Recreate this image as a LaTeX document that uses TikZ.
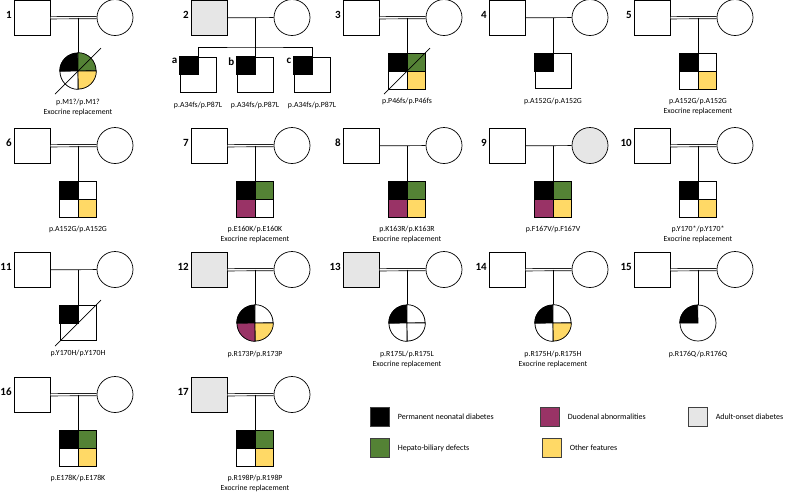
\documentclass[tikz,border=0pt]{standalone}
\usepackage{fontspec}
\setmainfont{Carlito}
\usepackage{tikz}
\usetikzlibrary{calc, positioning}

\definecolor{pndcol}{HTML}{000000}
\definecolor{hepcol}{HTML}{548235}
\definecolor{duocol}{HTML}{993366}
\definecolor{othcol}{HTML}{FFD966}
\definecolor{adultcol}{HTML}{E6E6E6}
\definecolor{boxline}{HTML}{404040}

% parents: id, left x, top y, number, father fill, mother fill, marriage line
\newcommand{\parents}[7]{%
	\node[male, fill=#5, anchor=north west] (f#1) at (#2,#3) {};
	\node[female, fill=#6] (m#1) at (#2+101,#3+17.5) {};
	\node[famno, anchor=east] (n#1) at (#2-2,#3+14.5) {#4};
	\draw[#7] (f#1) -- (m#1);
	\coordinate (j#1) at (#2+64,#3+17.5);
}
% offspring: id, shape, mutation text
\newcommand{\offspring}[3]{%
	\node[#2] (c#1) at ($(j#1)+(0,53.5)$) {};
	\draw (j#1) -- (c#1);
	\node[mut, anchor=north] (l#1) at ($(c#1.south)+(0,9)$) {#3};
}
% quarters of a square: node, tl, tr, bl, br
\newcommand{\sqquads}[5]{%
	\draw[fill=#2] (#1.north west) rectangle (#1.center);
	\draw[fill=#3] (#1.north east) rectangle (#1.center);
	\draw[fill=#4] (#1.south west) rectangle (#1.center);
	\draw[fill=#5] (#1.south east) rectangle (#1.center);
}
% quarters of a circle: node, tl, tr, bl, br
\newcommand{\ciquads}[5]{%
	\draw[fill=#2] (#1.center) -- (#1.west) arc[start angle=180, end angle=90, radius=18pt] -- cycle;
	\draw[fill=#3] (#1.center) -- (#1.north) arc[start angle=90, end angle=0, radius=18pt] -- cycle;
	\draw[fill=#4] (#1.center) -- (#1.south) arc[start angle=270, end angle=180, radius=18pt] -- cycle;
	\draw[fill=#5] (#1.center) -- (#1.east) arc[start angle=0, end angle=-90, radius=18pt] -- cycle;
}
\newcommand{\deceased}[1]{%
	\draw ($(#1)+(-23,23)$) -- ($(#1)+(23,-23)$);
}

\begin{document}
\begin{tikzpicture}[x=1pt, y=-1pt, line width=0.7pt,
	male/.style={draw, rectangle, fill=white, minimum width=36pt, minimum height=35pt, inner sep=0pt},
	female/.style={draw, circle, fill=white, minimum size=36pt, inner sep=0pt},
	famno/.style={font=\fontsize{11}{13}\selectfont\bfseries, inner sep=0pt},
	mut/.style={font=\fontsize{7.8}{10}\selectfont, align=center, inner sep=0pt},
	consang/.style={double, double distance=1.6pt},
	legbox/.style={draw=boxline, line width=0.9pt, minimum size=19pt, inner sep=0pt},
	legtext/.style={font=\fontsize{8}{10}\selectfont, inner sep=0pt}]
	\useasboundingbox (0,0) rectangle (785,491);

	% Row 1
	\parents{1}{14}{0}{1}{white}{white}{consang}
	\offspring{1}{female}{p.M1?/p.M1?\\Exocrine replacement}
	\ciquads{c1}{pndcol}{hepcol}{white}{othcol}
	\deceased{c1}

	\parents{2}{191}{0}{2}{adultcol}{white}{}
	\node[male] (c2a) at (198,74.5) {};
	\node[male] (c2b) at (255,74.5) {};
	\node[male] (c2c) at (312,74.5) {};
	\coordinate (s2) at (255,47);
	\draw (j2) -- (c2b);
	\draw (c2a.north) |- (s2) -| (c2c.north);
	\foreach \k in {a,b,c} {
		\draw[fill=pndcol] (c2\k.north west) rectangle (c2\k.center);
		\node[famno, anchor=north east] (n2\k) at ($(c2\k.north west)+(-2,1)$) {\k};
		\node[mut, anchor=north] (l2\k) at ($(c2\k.south)+(0,9)$) {p.A34fs/p.P87L};
	}

	\parents{3}{343}{0}{3}{white}{white}{consang}
	\offspring{3}{male}{p.P46fs/p.P46fs}
	\sqquads{c3}{pndcol}{hepcol}{white}{othcol}
	\deceased{c3}

	\parents{4}{489}{0}{4}{white}{white}{}
	\offspring{4}{male}{p.A152G/p.A152G}
	\draw[fill=pndcol] (c4.north west) rectangle (c4.center);

	\parents{5}{634}{0}{5}{white}{white}{consang}
	\offspring{5}{male}{p.A152G/p.A152G\\Exocrine replacement}
	\sqquads{c5}{pndcol}{white}{white}{othcol}

	% Row 2
	\parents{6}{14}{128}{6}{white}{white}{consang}
	\offspring{6}{male}{p.A152G/p.A152G}
	\sqquads{c6}{pndcol}{white}{white}{othcol}

	\parents{7}{191}{128}{7}{white}{white}{consang}
	\offspring{7}{male}{p.E160K/p.E160K\\Exocrine replacement}
	\sqquads{c7}{pndcol}{hepcol}{duocol}{white}

	\parents{8}{343}{128}{8}{white}{white}{}
	\offspring{8}{male}{p.K163R/p.K163R\\Exocrine replacement}
	\sqquads{c8}{pndcol}{hepcol}{duocol}{othcol}

	\parents{9}{489}{128}{9}{white}{adultcol}{}
	\offspring{9}{male}{p.F167V/p.F167V}
	\sqquads{c9}{pndcol}{hepcol}{duocol}{othcol}

	\parents{10}{634}{128}{10}{white}{white}{consang}
	\offspring{10}{male}{p.Y170*/p.Y170*\\Exocrine replacement}
	\sqquads{c10}{pndcol}{white}{white}{othcol}

	% Row 3
	\parents{11}{14}{252}{11}{white}{white}{}
	\offspring{11}{male}{p.Y170H/p.Y170H}
	\draw[fill=pndcol] (c11.north west) rectangle (c11.center);
	\deceased{c11}

	\parents{12}{191}{252}{12}{adultcol}{white}{consang}
	\offspring{12}{female}{p.R173P/p.R173P}
	\ciquads{c12}{pndcol}{white}{duocol}{othcol}

	\parents{13}{343}{252}{13}{adultcol}{white}{consang}
	\offspring{13}{female}{p.R175L/p.R175L\\Exocrine replacement}
	\ciquads{c13}{pndcol}{white}{white}{white}

	\parents{14}{489}{252}{14}{white}{white}{consang}
	\offspring{14}{female}{p.R175H/p.R175H\\Exocrine replacement}
	\ciquads{c14}{pndcol}{white}{white}{othcol}

	\parents{15}{634}{252}{15}{white}{white}{consang}
	\offspring{15}{female}{p.R176Q/p.R176Q}
	\draw[fill=pndcol] (c15.center) -- (c15.west) arc[start angle=180, end angle=90, radius=18pt] -- cycle;

	% Row 4
	\parents{16}{14}{377}{16}{white}{white}{consang}
	\offspring{16}{male}{p.E178K/p.E178K}
	\sqquads{c16}{pndcol}{hepcol}{white}{othcol}

	\parents{17}{191}{377}{17}{adultcol}{white}{consang}
	\offspring{17}{male}{p.R198P/p.R198P\\Exocrine replacement}
	\sqquads{c17}{pndcol}{hepcol}{white}{othcol}

	% Legend
	\node[legbox, fill=pndcol] (kpnd) at (379.5,416.5) {};
	\node[legtext, right=8pt of kpnd] (tpnd) {Permanent neonatal diabetes};
	\node[legbox, fill=hepcol] (khep) at (379.5,448) {};
	\node[legtext, right=8pt of khep] (thep) {Hepato-biliary defects};
	\node[legbox, fill=duocol] (kduo) at (549.5,416.5) {};
	\node[legtext, right=8pt of kduo] (tduo) {Duodenal abnormalities};
	\node[legbox, fill=othcol] (koth) at (551.5,448) {};
	\node[legtext, right=8pt of koth] (toth) {Other features};
	\node[legbox, fill=adultcol] (kadult) at (697.5,416.5) {};
	\node[legtext, right=8pt of kadult] (tadult) {Adult-onset diabetes};
\end{tikzpicture}
\end{document}
